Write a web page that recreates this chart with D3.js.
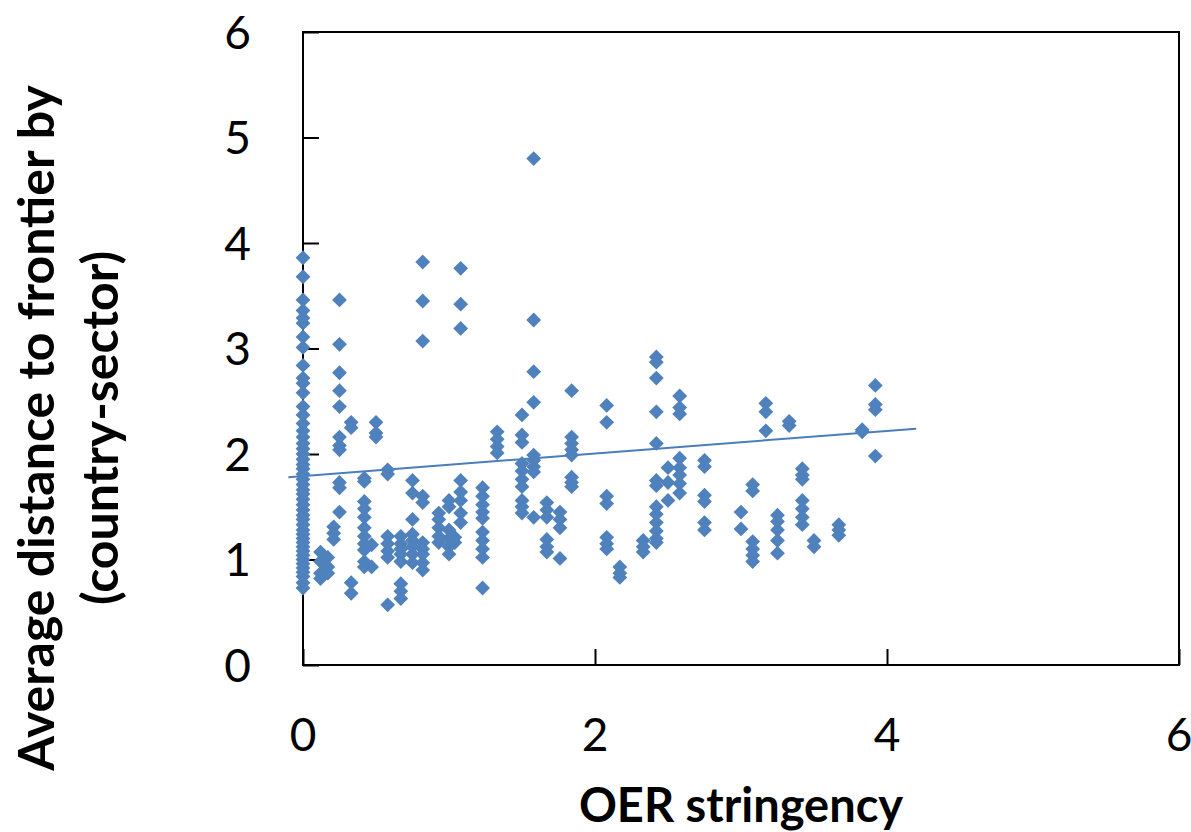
<!DOCTYPE html>
<html>
<head>
<meta charset="utf-8">
<script src="https://cdn.jsdelivr.net/npm/d3@7"></script>
<style>
  body { margin: 0; background: #fff; }
  svg { display: block; font-family: Lato, "Liberation Sans", sans-serif; }
</style>
</head>
<body>
<div id="scatter"></div>
<script>
// OER stringency levels (one column of points each)
const oerLevels = [0, 0.12, 0.17, 0.21, 0.25, 0.33, 0.42, 0.47, 0.5, 0.58, 0.67, 0.75, 0.82,
  0.93, 1.0, 1.04, 1.08, 1.23, 1.33, 1.5, 1.58, 1.67, 1.76, 1.84, 2.08, 2.17, 2.33, 2.42,
  2.5, 2.58, 2.75, 3.0, 3.08, 3.17, 3.25, 3.33, 3.42, 3.5, 3.67, 3.83, 3.92];

const distances = [
  [3.86, 3.68, 3.46, 3.36, 3.29, 3.24, 3.11, 3.01, 2.84, 2.72, 2.67, 2.58, 2.45, 2.37, 2.29,
   2.22, 2.16, 2.1, 2.05, 2.0, 1.95, 1.9, 1.86, 1.81, 1.76, 1.71, 1.66, 1.62, 1.57, 1.52,
   1.47, 1.42, 1.38, 1.33, 1.28, 1.24, 1.2, 1.16, 1.12, 1.08, 1.04, 1.0, 0.96, 0.92, 0.88,
   0.84, 0.78, 0.73],
  [1.07, 0.98, 0.87, 0.82],
  [1.02, 0.93, 0.87],
  [1.31, 1.25, 1.19],
  [3.46, 3.04, 2.77, 2.6, 2.45, 2.16, 2.08, 2.04, 1.73, 1.68, 1.45],
  [2.3, 2.25, 0.78, 0.68],
  [1.77, 1.74, 1.55, 1.48, 1.4, 1.3, 1.22, 1.15, 1.09, 0.98, 0.93],
  [1.14, 0.93],
  [2.3, 2.2, 2.16],
  [1.85, 1.81, 1.22, 1.15, 1.08, 1.02, 0.57],
  [1.22, 1.15, 1.1, 1.05, 0.98, 0.77, 0.7, 0.63],
  [1.75, 1.63, 1.38, 1.24, 1.18, 1.12, 1.05, 0.97],
  [3.82, 3.45, 3.07, 1.6, 1.54, 1.16, 1.1, 1.05, 0.97, 0.9],
  [1.44, 1.38, 1.3, 1.22, 1.16],
  [1.56, 1.5, 1.28, 1.2, 1.12, 1.05],
  [1.21, 1.16],
  [3.76, 3.42, 3.19, 1.75, 1.64, 1.56, 1.44, 1.35],
  [1.68, 1.6, 1.52, 1.45, 1.39, 1.26, 1.18, 1.1, 1.02, 0.73],
  [2.21, 2.14, 2.07, 2.01],
  [2.37, 2.18, 2.11, 1.91, 1.84, 1.76, 1.69, 1.56, 1.5, 1.44],
  [4.8, 3.27, 2.78, 2.49, 1.99, 1.94, 1.88, 1.83, 1.4],
  [1.54, 1.47, 1.4, 1.19, 1.12, 1.07],
  [1.45, 1.38, 1.3, 1.01],
  [2.6, 2.16, 2.1, 2.04, 1.99, 1.78, 1.73, 1.69],
  [2.46, 2.3, 1.6, 1.53, 1.21, 1.15, 1.1],
  [0.93, 0.87, 0.83],
  [1.18, 1.12, 1.07],
  [2.92, 2.87, 2.72, 2.4, 2.1, 1.75, 1.7, 1.5, 1.43, 1.35, 1.27, 1.2, 1.16],
  [1.87, 1.73, 1.56],
  [2.55, 2.44, 2.38, 1.96, 1.87, 1.8, 1.72, 1.63],
  [1.94, 1.88, 1.61, 1.55, 1.35, 1.28],
  [1.45, 1.29],
  [1.71, 1.65, 1.17, 1.1, 1.04, 0.98],
  [2.48, 2.4, 2.22],
  [1.42, 1.36, 1.28, 1.18, 1.06],
  [2.31, 2.27],
  [1.86, 1.8, 1.76, 1.56, 1.48, 1.4, 1.33],
  [1.18, 1.12],
  [1.33, 1.28, 1.23],
  [2.23, 2.21],
  [2.65, 2.47, 2.42, 1.98]
];

// linear trend line (start and end in data units)
const trendX = [-0.1, 4.2];
const trendY = [1.78, 2.24];

const xTicks = [0, 2, 4, 6];
const yTicks = [0, 1, 2, 3, 4, 5, 6];

const margin = { top: 32, right: 12, bottom: 167, left: 303 },
    width = 1191 - margin.left - margin.right,
    height = 832 - margin.top - margin.bottom;

const svgRoot = d3.select("#scatter")
  .append("svg")
    .attr("width", 1191)
    .attr("height", 832);

const svg = svgRoot.append("g")
    .attr("transform", `translate(${margin.left},${margin.top})`);

const x = d3.scaleLinear().domain([0, 6]).range([0, width]);
const y = d3.scaleLinear().domain([0, 6]).range([height, 0]);

// flatten columns into points
const points = [];
oerLevels.forEach((lvl, i) => distances[i].forEach(v => points.push({ x: lvl, y: v })));

// frame
svg.append("rect")
    .attr("width", width)
    .attr("height", height)
    .attr("fill", "none")
    .attr("stroke", "#000")
    .attr("stroke-width", 2);

// Y axis, ticks pointing inwards
const yAxis = svg.append("g")
    .call(d3.axisRight(y).tickValues(yTicks).tickSize(16).tickFormat(""));
yAxis.select(".domain").remove();
yAxis.selectAll("line").attr("stroke", "#000").attr("stroke-width", 2);

svg.append("g")
  .selectAll("text")
  .data(yTicks)
  .join("text")
    .attr("x", -52)
    .attr("y", d => y(d))
    .attr("dy", "0.36em")
    .attr("text-anchor", "end")
    .attr("font-size", 46)
    .text(d => d);

// X axis, ticks pointing up
const xAxis = svg.append("g")
    .attr("transform", `translate(0,${height})`)
    .call(d3.axisTop(x).tickValues(xTicks).tickSize(16).tickFormat(""));
xAxis.select(".domain").remove();
xAxis.selectAll("line").attr("stroke", "#000").attr("stroke-width", 2);

svg.append("g")
  .selectAll("text")
  .data(xTicks)
  .join("text")
    .attr("x", d => x(d))
    .attr("y", height + 86)
    .attr("text-anchor", "middle")
    .attr("font-size", 46)
    .text(d => d);

// trend line
svg.append("line")
    .attr("x1", x(trendX[0]))
    .attr("y1", y(trendY[0]))
    .attr("x2", x(trendX[1]))
    .attr("y2", y(trendY[1]))
    .attr("stroke", "#4A7EBB")
    .attr("stroke-width", 2);

// diamond markers
const r = 7.4;
svg.append("g")
  .selectAll("path")
  .data(points)
  .join("path")
    .attr("transform", d => `translate(${x(d.x)},${y(d.y)})`)
    .attr("d", `M0,${-r}L${r},0L0,${r}L${-r},0Z`)
    .attr("fill", "#4F81BD");

// axis titles
svgRoot.append("text")
    .attr("x", margin.left + width / 2)
    .attr("y", 822)
    .attr("text-anchor", "middle")
    .attr("font-size", 47)
    .attr("font-weight", "bold")
    .text("OER stringency");

const yTitle = svgRoot.append("text")
    .attr("transform", "translate(0,428) rotate(-90)")
    .attr("text-anchor", "middle")
    .attr("font-size", 50)
    .attr("font-weight", "bold");
yTitle.append("tspan").attr("x", 0).attr("y", 54).text("Average distance to frontier by");
yTitle.append("tspan").attr("x", 0).attr("y", 118).text("(country-sector)");
</script>
</body>
</html>
